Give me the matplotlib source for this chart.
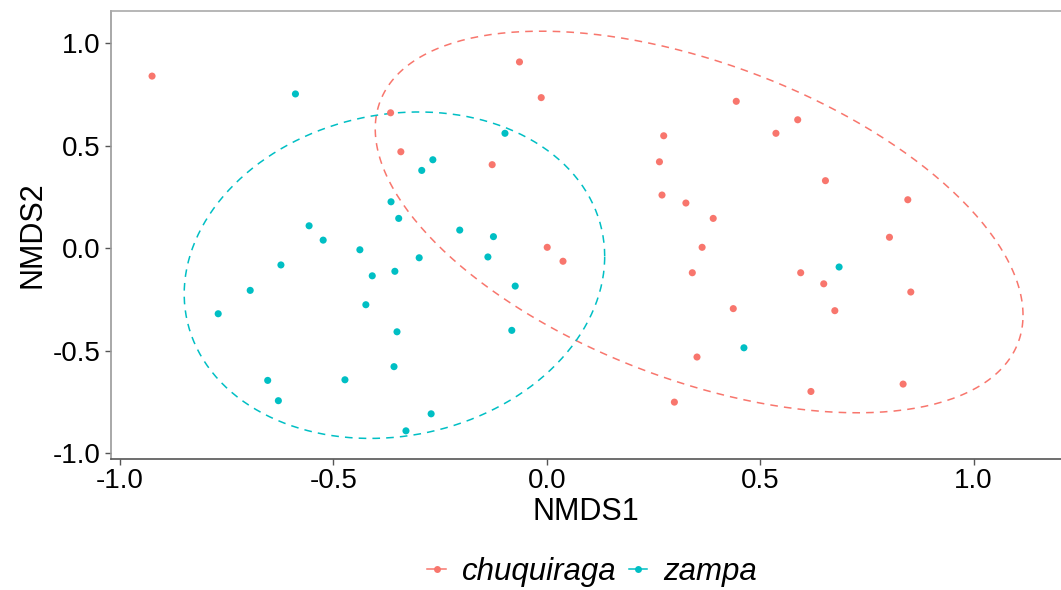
import numpy as np
import matplotlib
matplotlib.use("Agg")
import matplotlib.pyplot as plt
from matplotlib.lines import Line2D

plt.rcParams['font.family'] = ['Liberation Sans', 'DejaVu Sans']

# NMDS scores
chu_x = [-0.925, -0.366, -0.342, -0.064, -0.013, -0.128, 0.274, 0.264, 0.270, 0.001,
         0.038, 0.444, 0.588, 0.537, 0.326, 0.390, 0.653, 0.846, 0.803, 0.364,
         0.341, 0.595, 0.649, 0.853, 0.437, 0.675, 0.352, 0.835, 0.619, 0.299]
chu_y = [0.840, 0.661, 0.471, 0.909, 0.735, 0.408, 0.549, 0.422, 0.260, 0.005,
         -0.063, 0.717, 0.627, 0.561, 0.221, 0.146, 0.330, 0.237, 0.054, 0.005,
         -0.119, -0.119, -0.173, -0.213, -0.294, -0.304, -0.530, -0.662, -0.698, -0.750]

zam_x = [-0.589, -0.365, -0.347, -0.557, -0.524, -0.438, -0.098, -0.267, -0.293, -0.204,
         -0.125, -0.770, -0.695, -0.623, -0.409, -0.356, -0.424, -0.351, -0.358, -0.473,
         -0.654, -0.629, -0.299, -0.138, -0.074, -0.082, -0.271, -0.330, 0.685, 0.462]
zam_y = [0.753, 0.227, 0.146, 0.110, 0.040, -0.007, 0.561, 0.432, 0.380, 0.089,
         0.057, -0.319, -0.205, -0.081, -0.134, -0.112, -0.275, -0.407, -0.577, -0.641,
         -0.644, -0.743, -0.046, -0.042, -0.184, -0.400, -0.807, -0.890, -0.091, -0.485]

# ellipse: centre x, centre y, half x-extent, half y-extent, cross term
chu_ell = [0.357, 0.1285, 0.759, 0.9305, -0.345]
zam_ell = [-0.357, -0.131, 0.4927, 0.796, 0.045]

red = '#F8766D'
cyan = '#00BFC4'


def ellipse_path(p, n=300):
    cx, cy, hx, hy, c = p
    t = np.linspace(0, 2 * np.pi, n)
    ex = cx + hx * np.cos(t)
    ey = cy + (c / hx) * np.cos(t) + np.sqrt(hy ** 2 - (c / hx) ** 2) * np.sin(t)
    return ex, ey


fig = plt.figure(figsize=(10.61, 5.90), dpi=100)
ax = fig.add_axes([0.1043, 0.2225, 0.8957, 0.7594])

ax.scatter(chu_x, chu_y, s=26, color=red, edgecolors='none', zorder=3)
ax.scatter(zam_x, zam_y, s=26, color=cyan, edgecolors='none', zorder=3)

ex, ey = ellipse_path(chu_ell)
ax.plot(ex, ey, color=red, lw=1.1, dashes=(5, 4))
ex, ey = ellipse_path(zam_ell)
ax.plot(ex, ey, color=cyan, lw=1.1, dashes=(5, 4))

ax.set_xlim(-1.022, 1.205)
ax.set_ylim(-1.026, 1.159)
ax.set_xticks([-1.0, -0.5, 0.0, 0.5, 1.0])
ax.set_yticks([-1.0, -0.5, 0.0, 0.5, 1.0])
ax.set_xticklabels(['-1.0', '-0.5', '0.0', '0.5', '1.0'])
ax.set_yticklabels(['-1.0', '-0.5', '0.0', '0.5', '1.0'])
ax.tick_params(labelsize=20, length=4, width=1, color='#555555', pad=3)

ax.spines['right'].set_visible(False)
ax.spines['top'].set_color('#aaaaaa')
ax.spines['left'].set_color('#999999')
ax.spines['bottom'].set_color('#555555')
for s in ['top', 'left', 'bottom']:
    ax.spines[s].set_linewidth(1.2)

ax.set_xlabel('NMDS1', fontsize=22, labelpad=2)
ax.set_ylabel('NMDS2', fontsize=22, labelpad=4)

handles = [Line2D([0], [0], color=red, lw=1.1, marker='o', markersize=5, markeredgewidth=0),
           Line2D([0], [0], color=cyan, lw=1.1, marker='o', markersize=5, markeredgewidth=0)]
leg = fig.legend(handles, ['chuquiraga', 'zampa'], loc='center', bbox_to_anchor=(0.558, 0.031),
                 ncol=2, frameon=False, handlelength=0.6, handletextpad=0.5, columnspacing=0.4,
                 prop={'size': 22.5, 'style': 'italic'})

fig.savefig('out.png', dpi=100)
